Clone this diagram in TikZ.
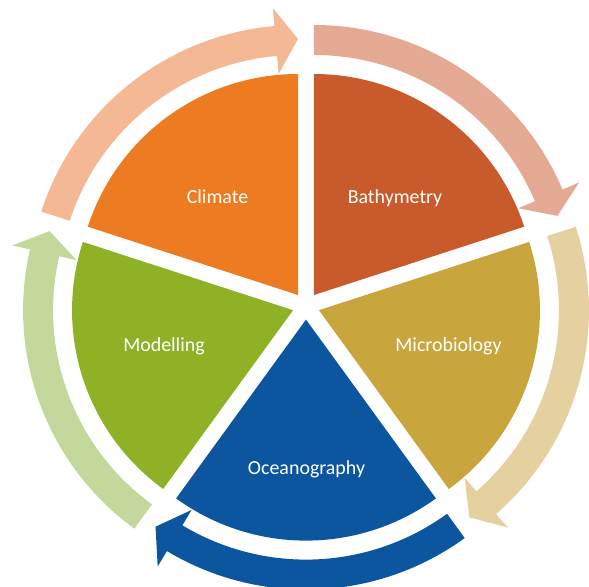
\documentclass[tikz,border=0pt]{standalone}
\usepackage{fontspec}
\setmainfont{Carlito}
\definecolor{climC}{HTML}{ED7B22}
\definecolor{bathC}{HTML}{C85A2B}
\definecolor{microC}{HTML}{C9A53E}
\definecolor{oceanC}{HTML}{0B569F}
\definecolor{modelC}{HTML}{8EB125}
\definecolor{climA}{HTML}{F5B895}
\definecolor{bathA}{HTML}{E4AA94}
\definecolor{microA}{HTML}{E5D1A0}
\definecolor{oceanA}{HTML}{0B569F}
\definecolor{modelA}{HTML}{C4D89C}
\begin{document}
\begin{tikzpicture}[x=1bp,y=1bp,
  lbl/.style={text=white,font=\fontsize{20}{24}\selectfont,anchor=base,inner sep=0pt}]
\useasboundingbox (0,0) rectangle (589,-587);
\clip (0,0) rectangle (589,-587);
\coordinate (C) at (306,-306);
% bisector, start(ccw edge), end(cw edge / tip), wedge colour, arrow colour
\foreach \bis/\s/\e/\wc/\ac in {126/162/90/climC/climA, 54/90/18/bathC/bathA, -18/18/-54/microC/microA, -90/-54/-126/oceanC/oceanA, 198/234/162/modelC/modelA}{
  \begin{scope}[shift={(C)},shift={(\bis:13.6)}]
    \fill[\wc] (0,0) -- (\e:221) arc[start angle=\e, end angle=\s, radius=221] -- cycle;
    \pgfmathsetmacro{\b}{\e+5}
    \fill[\ac] (\s:270) arc[start angle=\s, end angle=\b, radius=270]
      -- (\b:288) -- (\e:256) -- (\b:222) -- (\b:240)
      arc[start angle=\b, end angle=\s, radius=240] -- cycle;
  \end{scope}
}
\node[lbl] (climate) at (217.5,-203) {Climate};
\node[lbl] (bathy) at (395,-203) {Bathymetry};
\node[lbl] (model) at (164,-351) {Modelling};
\node[lbl] (micro) at (448.5,-351) {Microbiology};
\node[lbl] (ocean) at (306.5,-474) {Oceanography};
\end{tikzpicture}
\end{document}
